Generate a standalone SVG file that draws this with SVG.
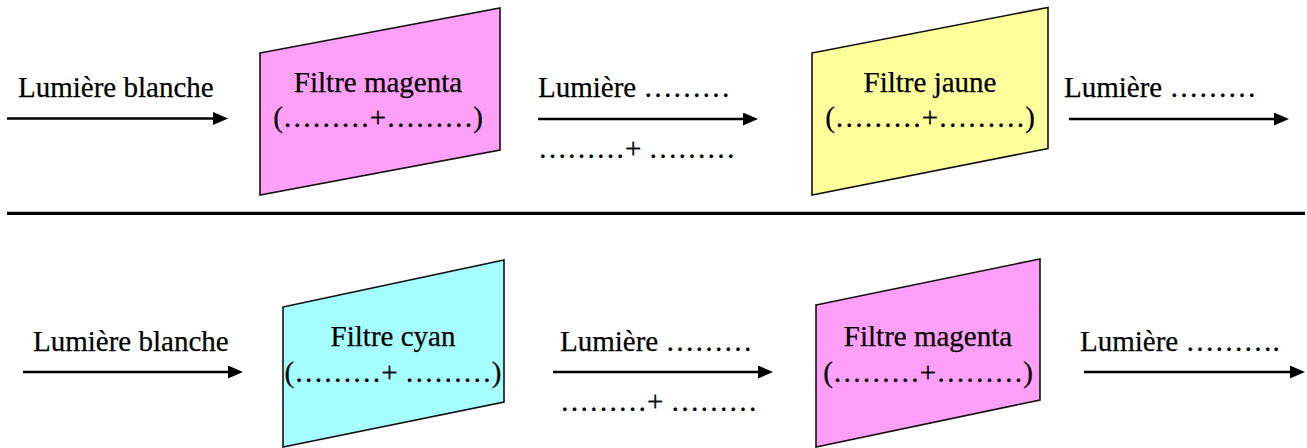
<svg xmlns="http://www.w3.org/2000/svg" width="1307" height="448" viewBox="0 0 1307 448">
  <style>
    text { font-family: "Liberation Serif", "Times New Roman", serif; font-size: 29px; fill: #000; stroke: #000; stroke-width: 0.25; }
    .mid { text-anchor: middle; }
    .filter { stroke: #111; stroke-width: 1.6; stroke-linejoin: miter; }
    .magenta { fill: #FF9FF8; }
    .yellow { fill: #FFFF9C; }
    .cyan { fill: #A6FFFF; }
    .ray { stroke: #000; stroke-width: 2.4; fill: none; marker-end: url(#head); }
  </style>
  <defs>
    <marker id="head" viewBox="0 0 15 13" markerWidth="15" markerHeight="13" refX="0" refY="6.5" markerUnits="userSpaceOnUse" orient="auto">
      <path d="M0,0 L15,6.5 L0,13 Z" fill="#000"/>
    </marker>
  </defs>
  <rect width="1307" height="448" fill="#fff"/>

  <!-- separator between the two experiments -->
  <line x1="7" y1="213.3" x2="1305" y2="213.3" stroke="#000" stroke-width="3.2"/>

  <!-- light rays -->
  <g id="connectors">
    <path class="ray" d="M7,118.5 H213"/>
    <path class="ray" d="M538,119 H743"/>
    <path class="ray" d="M1069,119 H1274"/>
    <path class="ray" d="M23,372 H228"/>
    <path class="ray" d="M553,372 H758"/>
    <path class="ray" d="M1084,372 H1290"/>
  </g>

  <!-- ray labels -->
  <g id="labels">
    <text x="18" y="97">Lumière blanche</text>
    <text x="538" y="97">Lumière ………</text>
    <text x="538" y="158">………+ ………</text>
    <text x="1064" y="97">Lumière ………</text>
    <text x="33" y="351">Lumière blanche</text>
    <text x="560" y="351">Lumière ………</text>
    <text x="560" y="411">………+ ………</text>
    <text x="1080" y="351">Lumière ……….</text>
  </g>

  <!-- top row: magenta filter -->
  <g id="filter-magenta-1">
    <polygon class="filter magenta" points="260,53 500,8 500,150 260,195"/>
    <text class="mid" x="378" y="92">Filtre magenta</text>
    <text class="mid" x="378" y="127">(………+………)</text>
  </g>

  <!-- top row: yellow filter -->
  <g id="filter-jaune">
    <polygon class="filter yellow" points="812,53 1048,7.5 1048,148.5 812,195"/>
    <text class="mid" x="930" y="92">Filtre jaune</text>
    <text class="mid" x="930" y="127">(………+………)</text>
  </g>

  <!-- bottom row: cyan filter -->
  <g id="filter-cyan">
    <polygon class="filter cyan" points="283,307 504,260 504,402 283,447"/>
    <text class="mid" x="393" y="346">Filtre cyan</text>
    <text class="mid" x="393" y="382">(………+ ………)</text>
  </g>

  <!-- bottom row: magenta filter -->
  <g id="filter-magenta-2">
    <polygon class="filter magenta" points="816,305 1040,259 1040,400 816,447"/>
    <text class="mid" x="928" y="346">Filtre magenta</text>
    <text class="mid" x="928" y="382">(………+………)</text>
  </g>
</svg>
